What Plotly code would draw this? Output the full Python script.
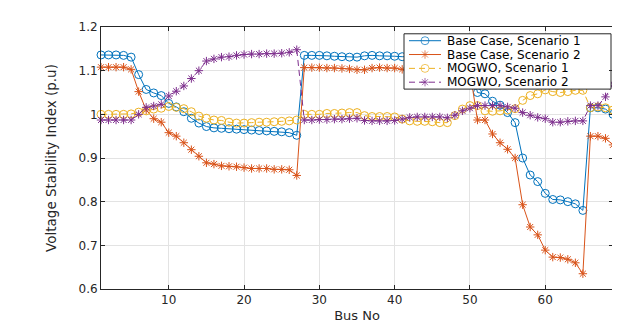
import plotly.graph_objects as go

# bus numbers 1..69
bus = list(range(1, 70))

base_s1 = [1.136, 1.136, 1.136, 1.135, 1.131, 1.091, 1.057, 1.049, 1.043, 1.025,
           1.017, 1.006, 0.991, 0.980, 0.972, 0.969, 0.968, 0.967, 0.966, 0.965,
           0.964, 0.963, 0.962, 0.961, 0.960, 0.958, 0.952, 1.135, 1.135, 1.135,
           1.134, 1.133, 1.132, 1.131, 1.131, 1.134, 1.135, 1.134, 1.134, 1.133,
           1.132, 1.132, 1.131, 1.131, 1.130, 1.130, 1.129, 1.129, 1.128, 1.128,
           1.050, 1.047, 1.030, 1.021, 1.004, 0.981, 0.900, 0.861, 0.846, 0.819,
           0.805, 0.804, 0.800, 0.795, 0.780, 1.015, 1.015, 1.012, 1.000]

base_s2 = [1.108, 1.108, 1.108, 1.108, 1.103, 1.052, 1.010, 0.990, 0.982, 0.958,
           0.950, 0.935, 0.919, 0.904, 0.889, 0.886, 0.882, 0.881, 0.880, 0.878,
           0.876, 0.876, 0.876, 0.874, 0.874, 0.873, 0.860, 1.107, 1.107, 1.107,
           1.106, 1.106, 1.105, 1.104, 1.102, 1.102, 1.106, 1.107, 1.106, 1.106,
           1.103, 1.103, 1.102, 1.102, 1.101, 1.101, 1.100, 1.100, 1.099, 1.098,
           0.987, 0.987, 0.955, 0.935, 0.920, 0.900, 0.793, 0.742, 0.724, 0.689,
           0.673, 0.672, 0.668, 0.660, 0.635, 0.950, 0.950, 0.945, 0.930]

mogwo_s1 = [1.000, 1.000, 1.000, 1.000, 1.001, 1.005, 1.008, 1.012, 1.014, 1.018,
            1.016, 1.013, 1.006, 0.996, 0.991, 0.987, 0.986, 0.982, 0.980, 0.980,
            0.981, 0.982, 0.982, 0.983, 0.984, 0.985, 0.987, 1.000, 1.000, 1.000,
            1.002, 1.002, 1.003, 1.004, 1.004, 0.997, 0.995, 0.995, 0.995, 0.994,
            0.989, 0.985, 0.984, 0.984, 0.983, 0.981, 0.981, 0.997, 1.012, 1.020,
            1.020, 1.008, 1.007, 1.008, 1.010, 1.013, 1.032, 1.043, 1.047, 1.056,
            1.052, 1.050, 1.052, 1.055, 1.055, 1.015, 1.017, 1.015, 1.010]

mogwo_s2 = [0.987, 0.987, 0.987, 0.987, 0.987, 1.000, 1.016, 1.019, 1.023, 1.042,
            1.053, 1.065, 1.082, 1.100, 1.122, 1.127, 1.131, 1.132, 1.135, 1.137,
            1.138, 1.138, 1.139, 1.139, 1.140, 1.142, 1.148, 0.987, 0.987, 0.988,
            0.988, 0.989, 0.989, 0.990, 0.991, 0.986, 0.985, 0.985, 0.985, 0.986,
            0.989, 0.993, 0.994, 0.994, 0.994, 0.994, 0.992, 0.998, 1.008, 1.014,
            1.020, 1.020, 1.020, 1.020, 1.017, 1.014, 1.004, 0.998, 0.993, 0.990,
            0.982, 0.982, 0.984, 0.985, 0.985, 1.020, 1.020, 1.040, 1.070]

x_ticks = [10, 20, 30, 40, 50, 60]
y_ticks = [0.6, 0.7, 0.8, 0.9, 1.0, 1.1, 1.2]
y_ticktext = ['0.6', '0.7', '0.8', '0.9', '1', '1.1', '1.2']

series = [
    ('Base Case, Scenario 1', base_s1, '#0072BD', 'solid', 'circle-open', 8),
    ('Base Case, Scenario 2', base_s2, '#D95319', 'solid', 'asterisk-open', 7),
    ('MOGWO, Scenario 1', mogwo_s1, '#EDB120', '6px,4px', 'circle-open', 8),
    ('MOGWO, Scenario 2', mogwo_s2, '#7E2F8E', '6px,4px', 'asterisk-open', 7),
]

font = 'DejaVu Sans, Arial, sans-serif'

# plot area in pixels (matches the margins below)
L, R, T, B = 93, 605, 19, 289

fig = go.Figure()
for name, vals, color, dash, symbol, size in series:
    fig.add_trace(go.Scatter(
        x=bus, y=vals, name=name, mode='lines+markers',
        line=dict(color=color, width=1, dash=dash),
        marker=dict(symbol=symbol, size=size, color=color, line=dict(width=1, color=color)),
        cliponaxis=False, showlegend=False,
    ))

# compact MATLAB-like legend, drawn on an overlay axis measured in pixels
box_l, box_r, box_t, box_b = 396, 603, 26, 83
fig.add_trace(go.Scatter(
    x=[box_l, box_r, box_r, box_l, box_l], y=[box_t, box_t, box_b, box_b, box_t],
    xaxis='x2', yaxis='y2', mode='lines', fill='toself', fillcolor='white',
    line=dict(color='#262626', width=1), hoverinfo='skip', showlegend=False,
))
row_h = (box_b - box_t) / len(series)
for k, (name, vals, color, dash, symbol, size) in enumerate(series):
    yc = box_t + row_h * (k + 0.5)
    fig.add_trace(go.Scatter(
        x=[box_l + 5, box_l + 21, box_l + 37], y=[yc, yc, yc],
        xaxis='x2', yaxis='y2', mode='lines+markers',
        line=dict(color=color, width=1, dash=dash),
        marker=dict(symbol=symbol, size=[0, size, 0], color=color, line=dict(width=1, color=color)),
        hoverinfo='skip', showlegend=False,
    ))
    fig.add_annotation(
        x=box_l + 42, y=yc, xref='x2', yref='y2', text=name, showarrow=False,
        xanchor='left', yanchor='middle', borderpad=0,
        font=dict(size=12, color='#000000'),
    )

fig.update_layout(
    width=620, height=325,
    margin=dict(l=L, r=620 - R, t=T, b=325 - B),
    paper_bgcolor='white', plot_bgcolor='white',
    font=dict(family=font, size=12, color='#262626'),
    showlegend=False,
    xaxis=dict(
        range=[1, 69], tickvals=x_ticks, showgrid=True, gridcolor='#e3e3e3',
        showline=True, linecolor='#262626', linewidth=1, mirror='ticks',
        ticks='inside', ticklen=4, tickcolor='#262626', zeroline=False,
        title=dict(text='Bus No', font=dict(size=13), standoff=4),
    ),
    yaxis=dict(
        range=[0.6, 1.2], tickvals=y_ticks, ticktext=y_ticktext,
        showgrid=True, gridcolor='#e3e3e3',
        showline=True, linecolor='#262626', linewidth=1, mirror='ticks',
        ticks='inside', ticklen=4, tickcolor='#262626', zeroline=False,
        title=dict(text='Voltage Stability Index (p.u)', font=dict(size=13.5), standoff=18),
    ),
    xaxis2=dict(overlaying='x', range=[L, R], visible=False, fixedrange=True),
    yaxis2=dict(overlaying='y', range=[B, T], visible=False, fixedrange=True),
)

fig.write_html("out.html")
